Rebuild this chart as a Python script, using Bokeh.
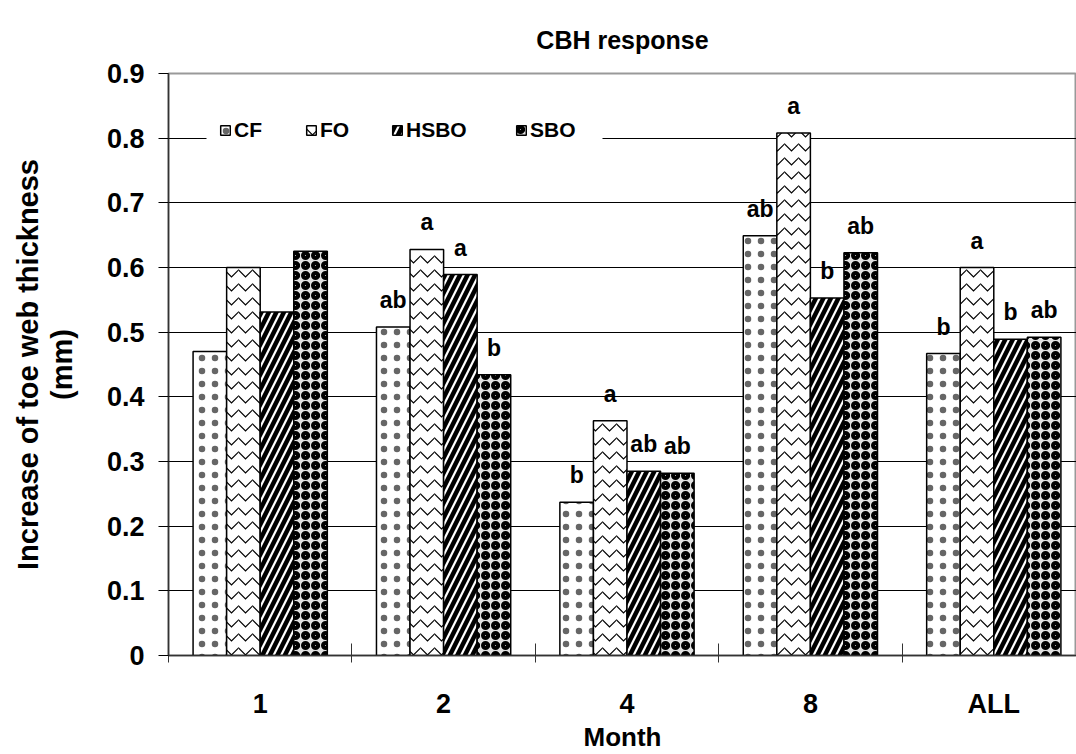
from bokeh.plotting import figure
from bokeh.models import Range1d, FixedTicker, ColumnDataSource, Legend, LegendItem, Title, BoxAnnotation
from bokeh.core.properties import value
from bokeh.embed import file_html
from bokeh.resources import INLINE

months = ["1", "2", "4", "8", "ALL"]
series = ["CF", "FO", "HSBO", "SBO"]
cf = [0.470, 0.508, 0.237, 0.649, 0.467]
fo = [0.600, 0.628, 0.363, 0.808, 0.600]
hsbo = [0.531, 0.589, 0.285, 0.553, 0.489]
sbo = [0.625, 0.434, 0.282, 0.623, 0.492]
letters_cf = ["", "ab", "b", "ab", "b"]
letters_fo = ["", "a", "a", "a", "a"]
letters_hsbo = ["", "a", "ab", "b", "b"]
letters_sbo = ["", "b", "ab", "ab", "ab"]

values = [cf, fo, hsbo, sbo]
letters = [letters_cf, letters_fo, letters_hsbo, letters_sbo]

FONT = "Liberation Sans"
BW = 0.183
styles = [
    dict(fill_color="white", hatch_pattern="dot", hatch_scale=13, hatch_weight=1, hatch_color="#666666"),
    dict(fill_color="white", hatch_pattern="horizontal_wave", hatch_scale=14, hatch_weight=1.2, hatch_color="black"),
    dict(fill_color="white", hatch_pattern="right_diagonal_line", hatch_scale=15, hatch_weight=4.5, hatch_color="black"),
    dict(fill_color="#e0e0e0", hatch_pattern="ring", hatch_scale=10, hatch_weight=4, hatch_color="black"),
]

p = figure(width=1076, height=754, output_backend="svg", toolbar_location=None,
           x_range=Range1d(0, 4.951), y_range=Range1d(0, 0.9),
           min_border_left=168, min_border_right=0, min_border_top=73, min_border_bottom=99)

p.title = Title(text="CBH response", text_font=FONT, text_font_size="25px", text_color="black",
                text_font_style="bold", align="center", vertical_align="top", offset=0, standoff=36)

renderers = []
for i, (name, vals, st) in enumerate(zip(series, values, styles)):
    xs = [j + 0.5 + (i - 1.5) * BW for j in range(len(months))]
    src = ColumnDataSource(dict(x=xs, top=vals, lab=letters[i]))
    r = p.vbar(x="x", top="top", width=BW, bottom=0, source=src,
               line_color="black", line_width=1.5, **st)
    renderers.append(r)
    p.text(x="x", y="top", text="lab", source=src, text_font=value(FONT),
           text_font_size="23px", text_font_style="bold", text_align="center",
           text_baseline="bottom", y_offset=-14, text_color="black")

# axes
p.yaxis.ticker = FixedTicker(ticks=[round(0.1 * k, 1) for k in range(10)])
p.yaxis.major_label_overrides = {0: "0"}
p.yaxis.axis_label = "Increase of toe web thickness\n(mm)"
p.yaxis.axis_label_text_font = FONT
p.yaxis.axis_label_text_font_size = "29px"
p.yaxis.axis_label_text_font_style = "bold"
p.yaxis.axis_label_text_color = "black"
p.yaxis.axis_label_text_line_height = 1.05
p.yaxis.axis_label_standoff = 26
p.yaxis.major_label_text_font = FONT
p.yaxis.major_label_text_font_size = "27px"
p.yaxis.major_label_text_font_style = "bold"
p.yaxis.major_label_text_color = "black"
p.yaxis.major_label_standoff = 14
p.yaxis.major_tick_out = 10
p.yaxis.major_tick_in = 0
p.yaxis.minor_tick_line_color = None
p.yaxis.axis_line_color = "#333333"
p.yaxis.axis_line_width = 1.5

centers = [j + 0.5 for j in range(len(months))]
p.xaxis.ticker = FixedTicker(ticks=centers, minor_ticks=[0, 1, 2, 3, 4])
p.xaxis.major_label_overrides = {c: m for c, m in zip(centers, months)}
p.xaxis.major_tick_line_color = None
p.xaxis.minor_tick_in = 12
p.xaxis.minor_tick_out = 7
p.xaxis.minor_tick_line_color = "#333333"
p.xaxis.axis_label = "Month"
p.xaxis.axis_label_text_font = FONT
p.xaxis.axis_label_text_font_size = "26px"
p.xaxis.axis_label_text_font_style = "bold"
p.xaxis.axis_label_text_color = "black"
p.xaxis.axis_label_standoff = 0
p.xaxis.major_label_text_font = FONT
p.xaxis.major_label_text_font_size = "27px"
p.xaxis.major_label_text_font_style = "bold"
p.xaxis.major_label_text_color = "black"
p.xaxis.major_label_standoff = 26
p.xaxis.axis_line_color = "#333333"
p.xaxis.axis_line_width = 1.5

p.xgrid.grid_line_color = None
p.ygrid.ticker = FixedTicker(ticks=[round(0.1 * k, 1) for k in range(1, 9)])
p.ygrid.grid_line_color = "black"
p.ygrid.grid_line_width = 1

p.outline_line_color = "#999999"
p.outline_line_width = 2
p.background_fill_color = "white"
p.border_fill_color = "white"

# white band behind the legend (hides the 0.8 grid line there); screen units relative to the frame
p.add_layout(BoxAnnotation(left=38, right=434, top=537, bottom=512,
                           left_units="screen", right_units="screen",
                           top_units="screen", bottom_units="screen",
                           fill_color="white", fill_alpha=1.0, line_color=None))

leg_kw = dict(orientation="horizontal",
              label_text_font=FONT, label_text_font_size="21px", label_text_font_style="bold",
              label_text_color="black",
              glyph_width=12, glyph_height=12, label_standoff=3, spacing=22,
              label_width=49, padding=4, margin=0,
              border_line_color=None, background_fill_alpha=1.0, background_fill_color="white")
legend1 = Legend(items=[LegendItem(label=s, renderers=[r]) for s, r in zip(series[:3], renderers[:3])],
                 location=(51, 513), **leg_kw)
legend2 = Legend(items=[LegendItem(label=series[3], renderers=[renderers[3]])],
                 location=(347, 513), **leg_kw)
p.add_layout(legend1, "center")
p.add_layout(legend2, "center")

open("out.html", "w").write(file_html(p, INLINE))
